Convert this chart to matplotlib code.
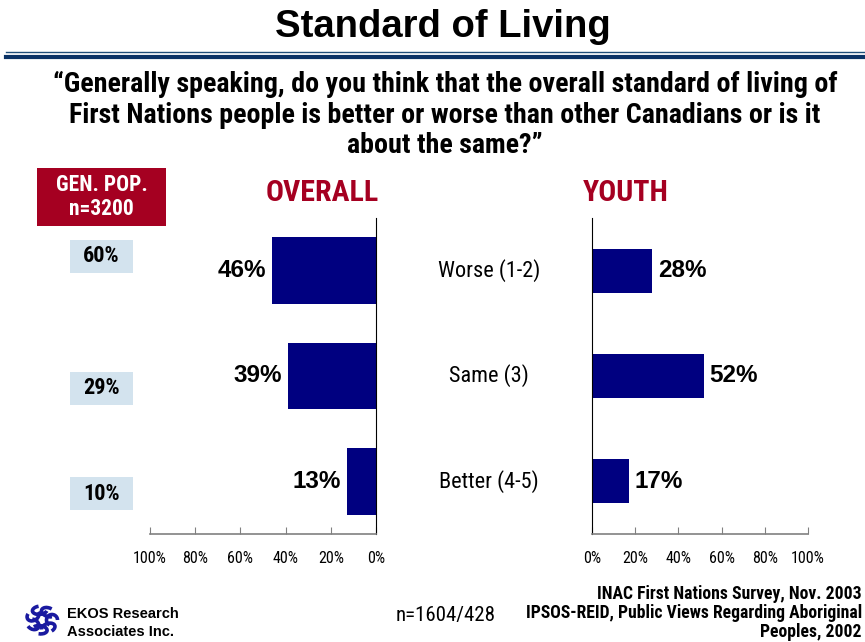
import matplotlib
matplotlib.use("Agg")
import matplotlib.pyplot as plt
import matplotlib.patches as mpatches
import matplotlib.transforms as mtransforms
import numpy as np

plt.rcParams['font.family'] = ['Roboto Condensed', 'Liberation Sans', 'DejaVu Sans']
WIDE = ['Liberation Sans', 'DejaVu Sans']

# ---- data ----
categories = ["Worse (1-2)", "Same (3)", "Better (4-5)"]
overall = [46, 39, 13]
youth = [28, 52, 17]
gen_pop = [60, 29, 10]
ticks = [0, 20, 40, 60, 80, 100]
tick_labels = [f"{t}%" for t in ticks]

NAVY = "#000080"
RED = "#A50021"
LIGHT = "#D3E3EE"

W, H = 865, 642
fig = plt.figure(figsize=(W / 100, H / 100), dpi=100)


def fx(px):
    return px / W


def fy(py):
    return 1 - py / H


def axes_px(x0, y0, x1, y1):
    return fig.add_axes([fx(x0), fy(y1), (x1 - x0) / W, (y1 - y0) / H])


# ---- header ----
fig.text(fx(443), fy(27), "Standard of Living", ha="center", va="center",
         fontsize=27.5, fontweight="bold", family=WIDE)
fig.add_artist(plt.Line2D([fx(6), fx(865)], [fy(52), fy(52)], color="#1F4E79", lw=1.0))
fig.add_artist(plt.Line2D([fx(6), fx(865)], [fy(56.5), fy(56.5)], color="#0B3366", lw=3.0))

question = ("\u201cGenerally speaking, do you think that the overall standard of living of\n"
            "First Nations people is better or worse than other Canadians or is it\n"
            "about the same?\u201d")
fig.text(fx(445), fy(115), question, ha="center", va="center", fontsize=20.2,
         fontweight="bold", linespacing=1.17)

# ---- panel titles ----
fig.text(fx(322), fy(193), "OVERALL", ha="center", va="center", fontsize=21.5,
         fontweight="bold", color=RED)
fig.text(fx(626), fy(193), "YOUTH", ha="center", va="center", fontsize=21.5,
         fontweight="bold", color=RED)

# ---- general population column ----
fig.add_artist(mpatches.Rectangle((fx(37), fy(226)), (166 - 37) / W, (226 - 168) / H,
                                  transform=fig.transFigure, color=RED, lw=0))
fig.text(fx(101.5), fy(197), "GEN. POP.\nn=3200", ha="center", va="center",
         fontsize=15.5, fontweight="bold", color="white", linespacing=1.15)
for v, yc in zip(gen_pop, [256.5, 388.5, 493.5]):
    fig.add_artist(mpatches.Rectangle((fx(70), fy(yc + 16.5)), 63 / W, 33 / H,
                                      transform=fig.transFigure, color=LIGHT, lw=0))
    fig.text(fx(101.5), fy(yc), f"{v}%", ha="center", va="center",
             fontsize=16, fontweight="bold")

# ---- bar panels ----
y = np.arange(len(categories))


def style_axis(ax, spine_side):
    ax.set_ylim(len(categories) - 0.5, -0.5)
    ax.set_yticks([])
    for s in ["top", "left", "right"]:
        ax.spines[s].set_visible(s == spine_side)
    ax.spines[spine_side].set_color("black")
    ax.spines["bottom"].set_color("#808080")
    ax.spines["bottom"].set_linewidth(1.2)
    ax.set_xticks(ticks)
    ax.set_xticklabels(tick_labels, fontsize=11.5)
    ax.tick_params(axis="x", direction="in", length=5, pad=12, color="#808080")
    ax.patch.set_alpha(0)


ax1 = axes_px(150, 218, 376, 534)
ax1.barh(y, overall, height=0.63, color=NAVY)
ax1.set_xlim(100, 0)
style_axis(ax1, "right")
for yi, v in zip(y, overall):
    ax1.text(v + 2.5, yi, f"{v}%", ha="right", va="center", fontsize=17.5,
             fontweight="bold", family=WIDE)

ax2 = axes_px(592, 218, 808, 534)
ax2.barh(y, youth, height=0.42, color=NAVY)
ax2.set_xlim(0, 100)
style_axis(ax2, "left")
for yi, v in zip(y, youth):
    ax2.text(v + 2.5, yi, f"{v}%", ha="left", va="center", fontsize=17.5,
             fontweight="bold", family=WIDE)

# category labels sit between the two panels
trans = mtransforms.blended_transform_factory(fig.transFigure, ax2.transData)
for yi, c in zip(y, categories):
    ax2.text(fx(489), yi, c, transform=trans, ha="center", va="center", fontsize=16)

# ---- footer ----
fig.text(fx(446), fy(615), "n=1604/428", ha="center", va="center", fontsize=15)
fig.text(fx(862), fy(613), "INAC First Nations Survey, Nov. 2003\n"
         "IPSOS-REID, Public Views Regarding Aboriginal\nPeoples, 2002",
         ha="right", va="center", fontsize=12.7, fontweight="bold", linespacing=1.1,
         multialignment="right")
fig.text(fx(67), fy(623), "EKOS Research\nAssociates Inc.", ha="left", va="center",
         fontsize=10.5, fontweight="bold", linespacing=1.3, family=WIDE)

# logo: a ring of curled strokes
cx, cy, r = 42, 620, 10
for k in range(7):
    a = 2 * np.pi * k / 7
    px, py = cx + r * np.cos(a), cy + r * np.sin(a)
    fig.add_artist(mpatches.Arc((fx(px), fy(py)), 11 / W, 11 / H, angle=-np.degrees(a),
                                theta1=0, theta2=250, transform=fig.transFigure,
                                color="#1A1AA0", lw=2.6))

fig.savefig("out.png", dpi=100)
